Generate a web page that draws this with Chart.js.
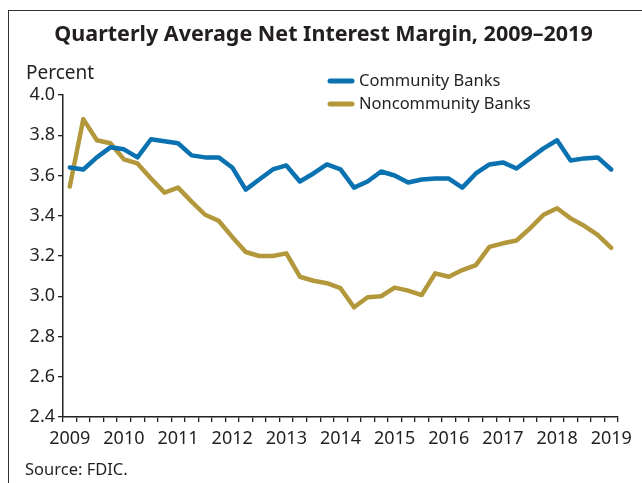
<!DOCTYPE html>
<html>
<head>
<meta charset="utf-8">
<script src="https://cdn.jsdelivr.net/npm/chart.js@4.4.1/dist/chart.umd.min.js"></script>
<style>
  html, body { margin: 0; padding: 0; background: #fff; }
  #wrap { position: relative; width: 642px; height: 483px; overflow: hidden; font-family: "Noto Sans", sans-serif; color: #231f20; }
  #frame { position: absolute; left: 8px; top: 10px; width: 640px; height: 480px; border-top: 1.5px solid #333; border-left: 1.5px solid #333; }
  #title { position: absolute; left: 0; width: 647px; top: 18px; text-align: center; font-weight: 700; font-size: 21.5px; white-space: nowrap; }
  #unit { position: absolute; left: 26px; top: 59px; font-size: 19px; }
  #source { position: absolute; left: 25px; top: 457px; font-size: 16.5px; }
  canvas { position: absolute; left: 0; top: 0; }
</style>
</head>
<body>
<div id="wrap">
  <div id="frame"></div>
  <canvas id="nimChart" width="642" height="483"></canvas>
  <div id="title">Quarterly Average Net Interest Margin, 2009–2019</div>
  <div id="unit">Percent</div>
  <div id="source">Source: FDIC.</div>
</div>
<script>
// 2009Q1 .. 2019Q1
const quarters = [];
for (let y = 2009; y <= 2019; y++) {
    for (let q = 1; q <= 4; q++) {
        if (y === 2019 && q > 1) break;
        quarters.push(y + 'Q' + q);
    }
}

const communityBanks = [
    3.64, 3.63, 3.69, 3.74, 3.73, 3.69, 3.78, 3.77, 3.76, 3.70,
    3.69, 3.69, 3.64, 3.53, 3.58, 3.63, 3.65, 3.57, 3.61, 3.655,
    3.63, 3.54, 3.57, 3.62, 3.60, 3.565, 3.58, 3.585, 3.585, 3.54,
    3.61, 3.655, 3.665, 3.635, 3.685, 3.735, 3.775, 3.675, 3.685, 3.69,
    3.63
];

const noncommunityBanks = [
    3.545, 3.88, 3.775, 3.76, 3.68, 3.66, 3.585, 3.515, 3.54, 3.47,
    3.405, 3.375, 3.295, 3.22, 3.20, 3.20, 3.213, 3.097, 3.077, 3.065,
    3.04, 2.945, 2.995, 3.00, 3.043, 3.028, 3.006, 3.114, 3.097, 3.13,
    3.155, 3.245, 3.263, 3.277, 3.337, 3.405, 3.437, 3.387, 3.35, 3.305,
    3.24
];

const yTicks = [2.4, 2.6, 2.8, 3.0, 3.2, 3.4, 3.6, 3.8, 4.0];

const BLUE = '#0a72b1';
const GOLD = '#b3983b';
const INK = '#231f20';

// legend drawn inside the plot, upper right
const insideLegend = {
    id: 'insideLegend',
    afterDraw(chart) {
        const ctx = chart.ctx;
        ctx.save();
        ctx.font = '16.5px "Noto Sans"';
        ctx.textBaseline = 'middle';
        chart.data.datasets.forEach((ds, i) => {
            const y = 81 + i * 23;
            ctx.strokeStyle = ds.borderColor;
            ctx.lineWidth = 5;
            ctx.lineCap = 'round';
            ctx.beginPath();
            ctx.moveTo(330, y);
            ctx.lineTo(352, y);
            ctx.stroke();
            ctx.fillStyle = INK;
            ctx.fillText(ds.label, 359, y);
        });
        ctx.restore();
    }
};

const ctx = document.getElementById('nimChart').getContext('2d');
new Chart(ctx, {
    type: 'line',
    data: {
        labels: quarters,
        datasets: [
            { label: 'Community Banks', data: communityBanks, borderColor: BLUE, backgroundColor: BLUE },
            { label: 'Noncommunity Banks', data: noncommunityBanks, borderColor: GOLD, backgroundColor: GOLD }
        ]
    },
    options: {
        responsive: false,
        animation: false,
        devicePixelRatio: 1,
        layout: { padding: { left: 0, right: 24, top: 95, bottom: 0 } },
        elements: {
            line: { borderWidth: 4.5, tension: 0, borderJoinStyle: 'round', borderCapStyle: 'round' },
            point: { radius: 0, hoverRadius: 0 }
        },
        plugins: {
            legend: { display: false },
            tooltip: { enabled: false }
        },
        scales: {
            x: {
                type: 'category',
                offset: true,
                afterFit: s => { s.height = 66; },
                grid: { offset: true, drawOnChartArea: false, tickLength: 5, color: INK, lineWidth: 1.3 },
                border: { display: true, color: INK, width: 1.5 },
                ticks: {
                    autoSkip: false,
                    maxRotation: 0,
                    padding: 6,
                    color: INK,
                    font: { family: 'Noto Sans', size: 18 },
                    callback: function (v, i) {
                        const lab = quarters[i];
                        return lab.endsWith('Q1') ? lab.slice(0, 4) : '';
                    }
                }
            },
            y: {
                min: 2.4,
                max: 4.0,
                afterFit: s => { s.width = 63; },
                afterBuildTicks: s => { s.ticks = yTicks.map(v => ({ value: v })); },
                grid: { drawOnChartArea: false, tickLength: 5, color: INK, lineWidth: 1.3 },
                border: { display: true, color: INK, width: 1.5 },
                ticks: {
                    padding: 3,
                    color: INK,
                    font: { family: 'Noto Sans', size: 18 },
                    callback: v => v.toFixed(1)
                }
            }
        }
    },
    plugins: [insideLegend]
});
</script>
</body>
</html>
